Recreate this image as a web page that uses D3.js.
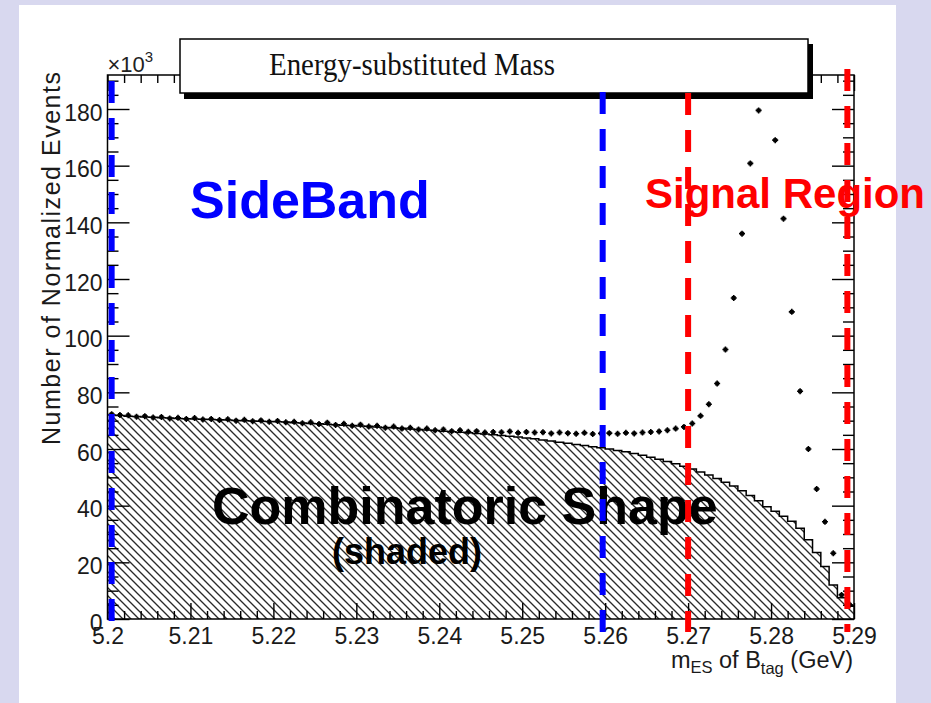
<!DOCTYPE html>
<html>
<head>
<meta charset="utf-8">
<script src="https://cdn.jsdelivr.net/npm/d3@7"></script>
<style>
  body { margin: 0; background: #d8d8ef; }
  text { font-family: "Liberation Sans", Arial, Helvetica, sans-serif; }
</style>
</head>
<body>
<div id="chart"></div>
<script>
// histogram bins: 90 bins of 0.001 GeV starting at 5.200
var binStart = 5.2, binWidth = 0.001;

// combinatoric (shaded) shape, x10^3 events per bin
var combinatoric = [
  72.0, 71.8, 71.6, 71.5, 71.3, 71.2, 71.0, 70.9, 70.8, 70.7,
  70.6, 70.5, 70.4, 70.3, 70.2, 70.1, 70.0, 69.9, 69.8, 69.7,
  69.6, 69.5, 69.3, 69.2, 69.0, 68.9, 68.7, 68.6, 68.4, 68.3,
  68.1, 68.0, 67.8, 67.6, 67.5, 67.3, 67.1, 66.9, 66.7, 66.5,
  66.3, 66.1, 65.9, 65.7, 65.5, 65.3, 65.0, 64.8, 64.5, 64.2,
  63.9, 63.6, 63.2, 62.8, 62.4, 62.0, 61.6, 61.2, 60.8, 60.4,
  60.0, 59.5, 59.0, 58.4, 57.8, 57.1, 56.4, 55.6, 54.8, 53.9,
  52.9, 51.9, 50.8, 49.6, 48.3, 46.9, 45.3, 43.6, 41.7, 39.6,
  38.0, 36.3, 34.5, 32.0, 28.0, 23.5, 18.5, 12.0, 7.5, 4.5
];

// data points (markers), x10^3 events per bin
var dataPoints = [
  72.3, 72.0, 71.9, 71.4, 71.6, 71.1, 71.3, 70.8, 71.0, 70.6,
  70.9, 70.4, 70.6, 70.2, 70.5, 70.0, 70.3, 69.8, 70.1, 69.6,
  69.9, 69.4, 69.6, 69.1, 69.4, 68.8, 69.3, 68.5, 68.9, 68.2,
  68.6, 67.9, 68.2, 67.5, 67.9, 67.2, 67.5, 66.9, 67.2, 66.6,
  66.9, 66.3, 66.6, 66.1, 66.3, 65.8, 66.0, 65.9, 66.2, 65.7,
  66.0, 65.8, 65.9, 65.5, 65.8, 65.6, 65.4, 65.7, 65.3, 65.5,
  65.6, 65.4, 65.7, 65.5, 65.8, 66.0, 66.2, 66.6, 67.2, 67.8,
  69.0, 71.7, 75.8, 83.1, 95.1, 113.3, 136.0, 160.8, 179.5, 185.0,
  169.0, 141.3, 108.4, 80.4, 60.0, 45.9, 34.3, 23.2, 8.5, 5.0
];

var xTicks = [5.2, 5.21, 5.22, 5.23, 5.24, 5.25, 5.26, 5.27, 5.28, 5.29];
var xTickLabels = ["5.2", "5.21", "5.22", "5.23", "5.24", "5.25", "5.26", "5.27", "5.28", "5.29"];
var yTicks = [0, 20, 40, 60, 80, 100, 120, 140, 160, 180];

var sideBandLines = [5.2005, 5.2597];
var signalLines = [5.2700, 5.2892];

var W = 931, H = 703;
var pLeft = 107.5, pRight = 854, pTop = 75, pBottom = 619;

var x = d3.scaleLinear().domain([5.2, 5.29]).range([pLeft, pRight]);
var y = d3.scaleLinear().domain([0, 192]).range([pBottom, pTop]);

var svg = d3.select("#chart").append("svg")
    .attr("width", W).attr("height", H);

// slide background + white panel
svg.append("rect").attr("width", W).attr("height", H).attr("fill", "#d8d8ef");
svg.append("rect").attr("x", 19).attr("y", 5).attr("width", 877).attr("height", H)
    .attr("fill", "#fff");

var defs = svg.append("defs");
var pat = defs.append("pattern").attr("id", "hatch")
    .attr("patternUnits", "userSpaceOnUse").attr("width", 8).attr("height", 8);
pat.append("path")
    .attr("d", "M-2,-2L10,10M-2,6L2,10M6,-2L10,2")
    .attr("stroke", "#2a2a2a").attr("stroke-width", 1.35);
defs.append("clipPath").attr("id", "plotclip")
    .append("rect").attr("x", pLeft).attr("y", pTop)
    .attr("width", pRight - pLeft).attr("height", pBottom - pTop);

// combinatoric histogram
var steps = combinatoric.map(function (v, i) {
    return {e: binStart + i * binWidth, v: v};
});
steps.push({e: binStart + combinatoric.length * binWidth, v: combinatoric[combinatoric.length - 1]});

svg.append("path")
    .datum(steps)
    .attr("fill", "url(#hatch)")
    .attr("d", d3.area().curve(d3.curveStepAfter)
        .x(function (d) { return x(d.e); })
        .y0(y(0))
        .y1(function (d) { return y(d.v); }));

svg.append("path")
    .datum(steps)
    .attr("fill", "none")
    .attr("stroke", "#000")
    .attr("stroke-width", 1.5)
    .attr("d", d3.line().curve(d3.curveStepAfter)
        .x(function (d) { return x(d.e); })
        .y(function (d) { return y(d.v); }));

// data markers
var marks = svg.append("g").attr("clip-path", "url(#plotclip)");
marks.selectAll("g.pt")
    .data(dataPoints)
    .enter().append("g")
    .attr("class", "pt")
    .attr("transform", function (d, i) {
        return "translate(" + x(binStart + (i + 0.5) * binWidth) + "," + y(d) + ")";
    })
    .each(function () {
        var g = d3.select(this);
        g.append("path").attr("d", "M-3,0H3M0,-3V3")
            .attr("stroke", "#000").attr("stroke-width", 1.6);
        g.append("rect").attr("x", -2).attr("y", -2).attr("width", 4).attr("height", 4)
            .attr("fill", "#000");
    });

// axes (ticks inside the frame, like ROOT)
var xMinor = d3.range(0, 46).map(function (i) { return 5.2 + i * 0.002; })
    .filter(function (v, i) { return i % 5 !== 0; });
var yMinor = d3.range(0, 193, 5).filter(function (v) { return v % 20 !== 0; });

function clean(g) {
    g.select(".domain").remove();
    g.selectAll(".tick line").attr("stroke", "#000").attr("stroke-width", 1.4);
}

svg.append("g").attr("transform", "translate(0," + pBottom + ")")
    .call(d3.axisBottom(x).tickValues(xMinor).tickSize(-8).tickFormat(""))
    .call(clean);
var xAx = svg.append("g").attr("transform", "translate(0," + pBottom + ")")
    .call(d3.axisBottom(x).tickValues(xTicks).tickSize(-16).tickPadding(9)
        .tickFormat(function (d, i) { return xTickLabels[i]; }))
    .call(clean);
xAx.selectAll("text").style("font-size", "23px").attr("fill", "#1a1a1a");

svg.append("g").attr("transform", "translate(0," + pTop + ")")
    .call(d3.axisTop(x).tickValues(xMinor).tickSize(-8).tickFormat(""))
    .call(clean);
svg.append("g").attr("transform", "translate(0," + pTop + ")")
    .call(d3.axisTop(x).tickValues(xTicks).tickSize(-16).tickFormat(""))
    .call(clean);

svg.append("g").attr("transform", "translate(" + pLeft + ",0)")
    .call(d3.axisLeft(y).tickValues(yMinor).tickSize(-11).tickFormat(""))
    .call(clean);
var yAx = svg.append("g").attr("transform", "translate(" + pLeft + ",0)")
    .call(d3.axisLeft(y).tickValues(yTicks).tickSize(-22).tickPadding(5))
    .call(clean);
yAx.selectAll("text").style("font-size", "23px").attr("fill", "#1a1a1a").attr("dy", "0.48em");

svg.append("g").attr("transform", "translate(" + pRight + ",0)")
    .call(d3.axisRight(y).tickValues(yMinor).tickSize(-11).tickFormat(""))
    .call(clean);
svg.append("g").attr("transform", "translate(" + pRight + ",0)")
    .call(d3.axisRight(y).tickValues(yTicks).tickSize(-22).tickFormat(""))
    .call(clean);

svg.append("rect")
    .attr("x", pLeft).attr("y", pTop)
    .attr("width", pRight - pLeft).attr("height", pBottom - pTop)
    .attr("fill", "none").attr("stroke", "#000").attr("stroke-width", 1.5);

// x10^3 multiplier
var mult = svg.append("text").attr("x", pLeft).attr("y", 72)
    .style("font-size", "22px").attr("fill", "#222").text("\u00d710");
mult.append("tspan").style("font-size", "15px").attr("dy", -10).text("3");

// axis titles
svg.append("text")
    .attr("transform", "translate(60,258.5) rotate(-90)")
    .attr("text-anchor", "middle")
    .style("font-size", "25px").attr("fill", "#1a1a1a")
    .attr("textLength", 373).attr("lengthAdjust", "spacing")
    .text("Number of Normalized Events");

var xt = svg.append("text").attr("x", 853).attr("y", 668)
    .attr("text-anchor", "end").style("font-size", "23.5px").attr("fill", "#1a1a1a");
xt.append("tspan").text("m");
xt.append("tspan").style("font-size", "16.5px").attr("dy", 5).text("ES");
xt.append("tspan").attr("dy", -5).text(" of B");
xt.append("tspan").style("font-size", "16.5px").attr("dy", 6).text("tag");
xt.append("tspan").attr("dy", -6).text(" (GeV)");

// title box with shadow
svg.append("rect").attr("x", 184).attr("y", 44).attr("width", 629).attr("height", 55)
    .attr("fill", "#000");
svg.append("rect").attr("x", 180).attr("y", 39).attr("width", 628).attr("height", 54)
    .attr("fill", "#fff").attr("stroke", "#000").attr("stroke-width", 1.5);
svg.append("text").attr("x", 412).attr("y", 75)
    .attr("text-anchor", "middle")
    .style("font-family", "'Liberation Serif', 'Times New Roman', serif")
    .style("font-size", "31px").attr("fill", "#111")
    .attr("textLength", 286).attr("lengthAdjust", "spacingAndGlyphs")
    .text("Energy-substituted Mass");

// annotations
svg.append("text").attr("x", 190).attr("y", 218)
    .style("font-size", "52px").attr("font-weight", "bold").attr("fill", "#0000ff")
    .text("SideBand");
svg.append("text").attr("x", 645).attr("y", 208)
    .style("font-size", "42px").attr("font-weight", "bold").attr("fill", "#ff0000")
    .text("Signal Region");
svg.append("text").attr("x", 212).attr("y", 524)
    .style("font-size", "52px").attr("font-weight", "bold").attr("fill", "#000")
    .text("Combinatoric Shape");
svg.append("text").attr("x", 332).attr("y", 564)
    .style("font-size", "36px").attr("font-weight", "bold").attr("fill", "#000")
    .text("(shaded)");

// region boundaries
var bounds = sideBandLines.map(function (v, i) {
    return {v: v, c: "#0000ff", y0: i === 0 ? 81 : 92};
}).concat(signalLines.map(function (v, i) {
    return {v: v, c: "#ff0000", y0: i === 0 ? 93 : 69};
}));
svg.selectAll("line.bound")
    .data(bounds)
    .enter().append("line")
    .attr("class", "bound")
    .attr("x1", function (d) { return x(d.v); })
    .attr("x2", function (d) { return x(d.v); })
    .attr("y1", function (d) { return d.y0; })
    .attr("y2", 632)
    .attr("stroke", function (d) { return d.c; })
    .attr("stroke-width", 6)
    .attr("stroke-dasharray", "22,15");
</script>
</body>
</html>
